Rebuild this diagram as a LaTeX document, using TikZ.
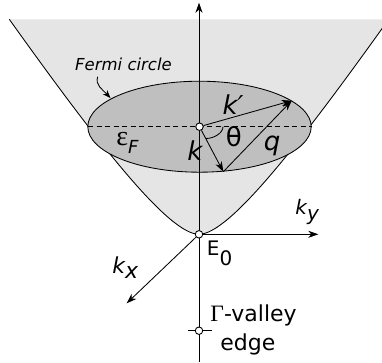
\documentclass[tikz,border=0pt]{standalone}
\usepackage{fontspec}
\setmainfont{DejaVu Sans}
\newfontfamily\serifgr{Liberation Serif}
\usetikzlibrary{arrows.meta}
\definecolor{lightg}{gray}{0.90}
\definecolor{darkg}{gray}{0.75}
\tikzset{
  dot/.style={circle, draw, fill=white, inner sep=0pt, minimum size=7.5pt, line width=0.9pt},
  big/.style={font=\fontsize{26}{30}\selectfont, inner sep=0pt},
  mid/.style={font=\fontsize{20}{24}\selectfont, inner sep=0pt},
  vec/.style={-{Stealth[length=10pt,width=7pt,inset=3pt]}},
}
\begin{document}
\begin{tikzpicture}[x=1pt,y=-1pt, line width=0.85pt]
\useasboundingbox (0,0) rectangle (382,362);
% valley surface
\begin{scope}
\clip (0,0) rectangle (382,362);
\fill[lightg] (9.3,19.3) .. controls (99.3,145.3) and (169,234.3) .. (199,234.3)
   .. controls (229,234.3) and (298.7,145.3) .. (388.7,19.3) -- cycle;
\draw (9.3,19.3) .. controls (99.3,145.3) and (169,234.3) .. (199,234.3)
   .. controls (229,234.3) and (298.7,145.3) .. (388.7,19.3);
\end{scope}
% Fermi circle
\draw[fill=darkg] (199.5,126.7) ellipse [x radius=111.7pt, y radius=45.5pt];
% coordinates
\coordinate (top) at (199,2.7);
\coordinate (bot) at (199,362);
\coordinate (dl) at (88,126.7);
\coordinate (dr) at (311.5,126.7);
\coordinate (kt) at (223.3,171.7);
\coordinate (kpt) at (291.7,100.7);
\coordinate (kyt) at (318.3,234.3);
\coordinate (kxt) at (126.7,303.3);
\coordinate (ga) at (188,330.7);
\coordinate (gb) at (211.7,330.7);
\coordinate (fa) at (97.7,76.7);
\coordinate (fb) at (110.5,98);
\coordinate (tha) at (223,126.7);
\coordinate (thb) at (206,138.5);
% axes
\draw[vec] (bot) -- (top);
\draw[dashed, dash pattern=on 5pt off 3.5pt] (dl) -- (dr);
\draw (ga) -- (gb);
% dots
\node[dot] (c) at (199.5,126.7) {};
\node[dot] (o) at (199,234.3) {};
\node[dot] (g) at (199,330.7) {};
% vectors
\draw[vec] (c) -- (kt);
\draw[vec] (c) -- (kpt);
\draw[vec] (kt) -- (kpt);
\draw[vec] (o) -- (kyt);
\draw[vec] (o) -- (kxt);
\draw (tha) .. controls (223,133) and (214,138.5) .. (thb);
\draw[-{Stealth[length=8pt,width=6pt,inset=2.5pt]}] (fa) .. controls (95,85) and (102,89) .. (fb);
% labels
\node[font=\fontsize{16.5}{19}\selectfont\itshape, inner sep=0pt] (fermi) at (123.5,64) {Fermi circle};
\node[big, font=\fontsize{26}{30}\selectfont\itshape] (kp) at (233,105) {k′};
\node[big] (th) at (233.7,137) {θ};
\node[big, font=\fontsize{26}{30}\selectfont\itshape] (q) at (272,146) {q};
\node[big, font=\fontsize{26}{30}\selectfont\itshape] (k) at (195,151) {k};
\node[big, anchor=base west] (eps) at (116,145) {{\serifgr\fontsize{28}{30}\selectfont ε}\raisebox{-8pt}{\fontsize{18}{20}\selectfont\itshape F}};
\node[mid, anchor=base west, font=\fontsize{20}{24}\selectfont\itshape] (ky) at (295,214) {k\raisebox{-6pt}{y}};
\node[mid, anchor=base west, font=\fontsize{22}{24}\selectfont\itshape] (kx) at (112,273) {k\raisebox{-5pt}{x}};
\node[mid, anchor=base west] (e0) at (206.5,255) {E\raisebox{-10pt}{0}};
\node[anchor=base west, inner sep=0pt, font=\fontsize{22}{26}\selectfont] (gam) at (210,321.7) {{\serifgr\fontsize{23.5}{26}\selectfont Γ}-valley};
\node[anchor=base west, inner sep=0pt, font=\fontsize{22}{26}\selectfont] (edge) at (220,350) {edge};
\end{tikzpicture}
\end{document}
